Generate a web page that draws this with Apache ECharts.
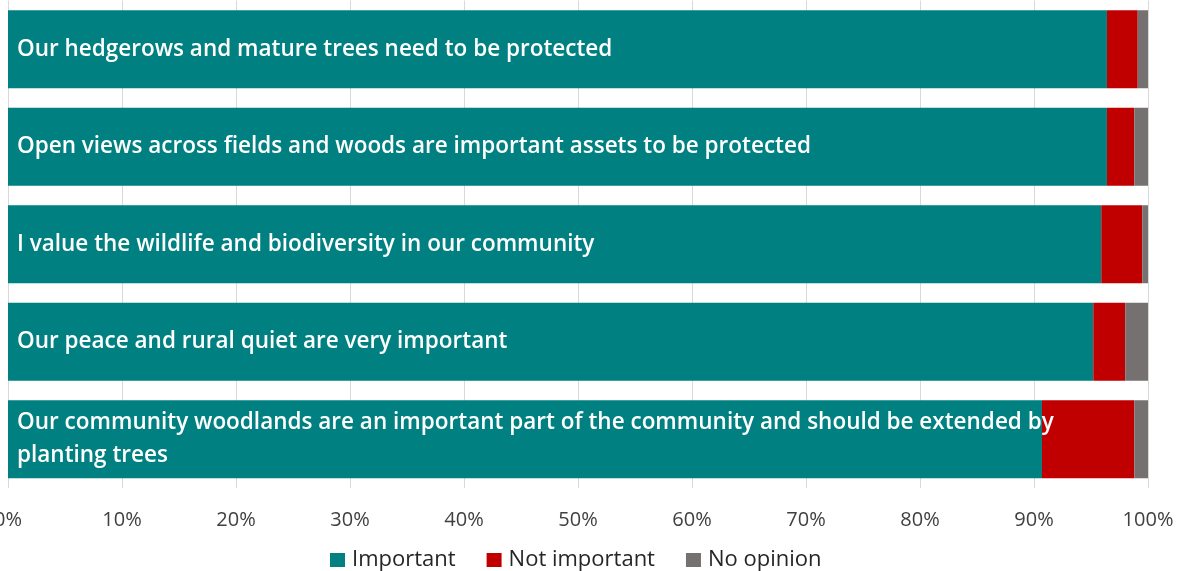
<!DOCTYPE html>
<html>
<head>
<meta charset="utf-8">
<script src="https://cdn.jsdelivr.net/npm/echarts@6/dist/echarts.min.js"></script>
<style>
  html, body { margin: 0; padding: 0; background: #ffffff; }
  #chart { width: 1187px; height: 571px; }
</style>
</head>
<body>
<div id="chart"></div>
<script>
// Survey statements (top to bottom)
const categories = [
  'Our hedgerows and mature trees need to be protected',
  'Open views across fields and woods are important assets to be protected',
  'I value the wildlife and biodiversity in our community',
  'Our peace and rural quiet are very important',
  'Our community woodlands are an important part of the community and should be extended by planting trees'
];

// Share of responses, percent
const important    = [96.4, 96.4, 95.9, 95.2, 90.7];
const notImportant = [2.7, 2.4, 3.6, 2.8, 8.1];
const noOpinion    = [0.9, 1.2, 0.5, 2.0, 1.2];

const seriesNames = ['Important', 'Not important', 'No opinion'];
const seriesColors = ['#008080', '#C00000', '#767171'];

const FONT = 'Open Sans';

const chart = echarts.init(document.getElementById('chart'), null, { renderer: 'canvas' });

function barSeries(name, data, color) {
  return {
    name: name,
    type: 'bar',
    stack: 'total',
    data: data,
    barCategoryGap: '20%',
    itemStyle: { color: color },
    emphasis: { disabled: true }
  };
}

chart.setOption({
  animation: false,
  textStyle: { fontFamily: FONT },
  grid: {
    left: 8, right: 39, top: 0.5, bottom: 83,
    containLabel: false,
    outerBoundsMode: 'none'
  },
  xAxis: {
    type: 'value',
    min: 0,
    max: 100,
    interval: 10,
    axisLine: { show: false },
    axisTick: { show: false },
    splitLine: { show: true, lineStyle: { color: '#d9d9d9', width: 1 } },
    axisLabel: {
      formatter: '{value}%',
      color: '#404040',
      fontSize: 20,
      fontFamily: FONT,
      margin: 22
    }
  },
  yAxis: {
    type: 'category',
    inverse: true,
    data: categories,
    axisLine: { show: false },
    axisTick: { show: false },
    splitLine: { show: false },
    z: 10,
    axisLabel: {
      inside: true,
      color: '#ffffff',
      fontSize: 22.5,
      fontWeight: 600,
      fontFamily: FONT,
      align: 'left',
      margin: 9,
      width: 1060,
      overflow: 'break',
      lineHeight: 33,
      padding: [2, 0, 0, 0]
    }
  },
  legend: {
    data: seriesNames,
    top: 549,
    left: 330,
    padding: 0,
    itemWidth: 15,
    itemHeight: 14,
    itemGap: 31,
    icon: 'rect',
    textStyle: { color: '#262626', fontSize: 22, fontFamily: FONT, padding: [0, 0, 0, 2] }
  },
  series: [
    barSeries(seriesNames[0], important, seriesColors[0]),
    barSeries(seriesNames[1], notImportant, seriesColors[1]),
    barSeries(seriesNames[2], noOpinion, seriesColors[2])
  ]
});
</script>
</body>
</html>
